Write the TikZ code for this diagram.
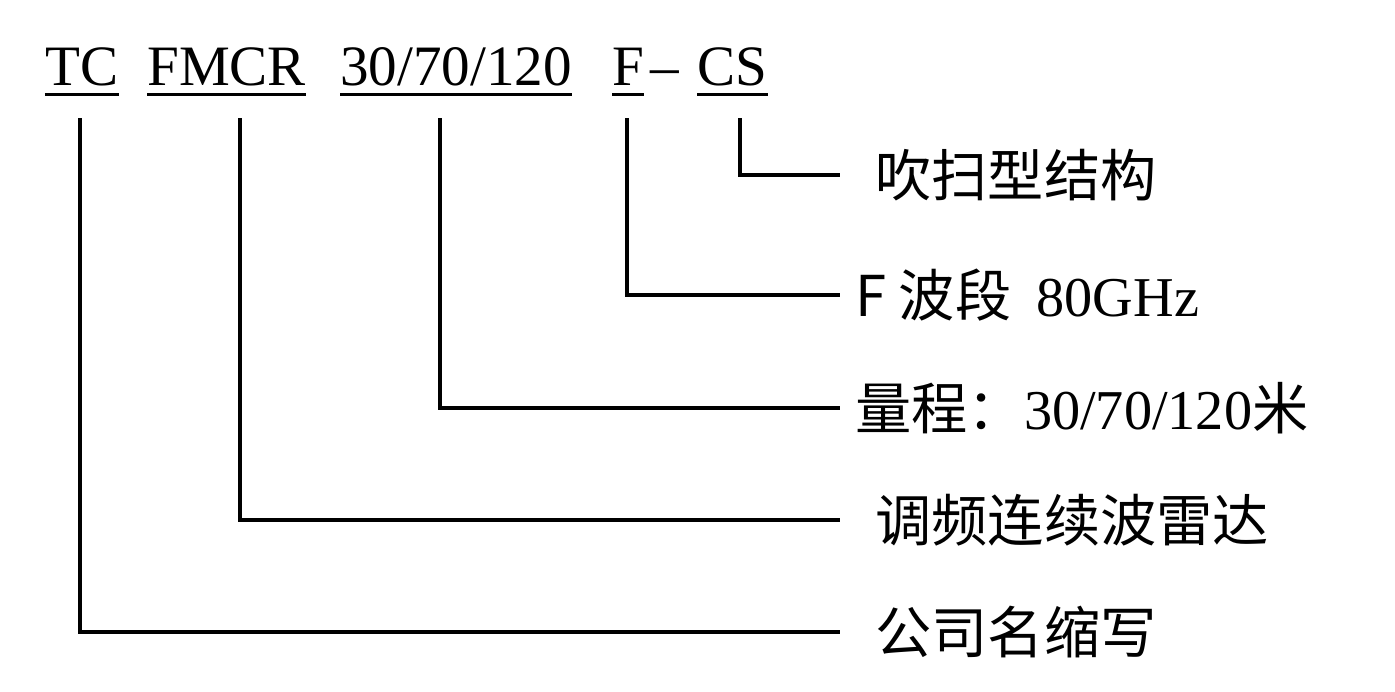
\documentclass[tikz,border=0pt]{standalone}
\usepackage{fontspec}
\setmainfont{Liberation Serif}
\newfontfamily\cjk{Noto Sans CJK SC}
\usetikzlibrary{positioning}
\tikzset{code/.style={anchor=base west,inner sep=0pt,font=\fontsize{32.5}{40}\selectfont},
  lbl/.style={anchor=west,inner sep=0pt,font=\fontsize{32}{36}\selectfont\cjk},
  lead/.style={line width=1.8pt}}
\begin{document}
\begin{tikzpicture}
  \useasboundingbox (0,0) rectangle (27.9,-13.82);
  % model code
  \node[code] (tc) at (0.9,-1.7) {TC};
  \node[code] (fmcr) at (2.94,-1.7) {FMCR};
  \node[code] (range) at (6.8,-1.7) {30/70/120};
  \node[code] (band) at (12.24,-1.7) {F};
  \node[code] (dash) at (13.0,-1.7) {--};
  \node[code] (cs) at (13.94,-1.7) {CS};
  \foreach \n in {tc,fmcr,range,band,cs}
    \draw[lead] ([yshift=-5pt]\n.south west) -- ([yshift=-5pt]\n.south east);
  % labels
  \node[lbl] (lcs) at (17.5,-3.5) {吹扫型结构};
  \node[lbl] (lband) at (17.1,-5.9) {F 波段\ \ {\rmfamily 80GHz}};
  \node[lbl] (lrange) at (17.1,-8.16) {量程：{\rmfamily 30/70/120}米};
  \node[lbl] (lfmcr) at (17.5,-10.4) {调频连续波雷达};
  \node[lbl] (ltc) at (17.5,-12.64) {公司名缩写};
  % leaders
  \draw[lead] (14.8,-2.36) |- (16.8,-3.5);
  \draw[lead] (12.54,-2.36) |- (16.8,-5.9);
  \draw[lead] (8.8,-2.36) |- (16.8,-8.16);
  \draw[lead] (4.8,-2.36) |- (16.8,-10.4);
  \draw[lead] (1.6,-2.36) |- (16.8,-12.64);
\end{tikzpicture}
\end{document}
